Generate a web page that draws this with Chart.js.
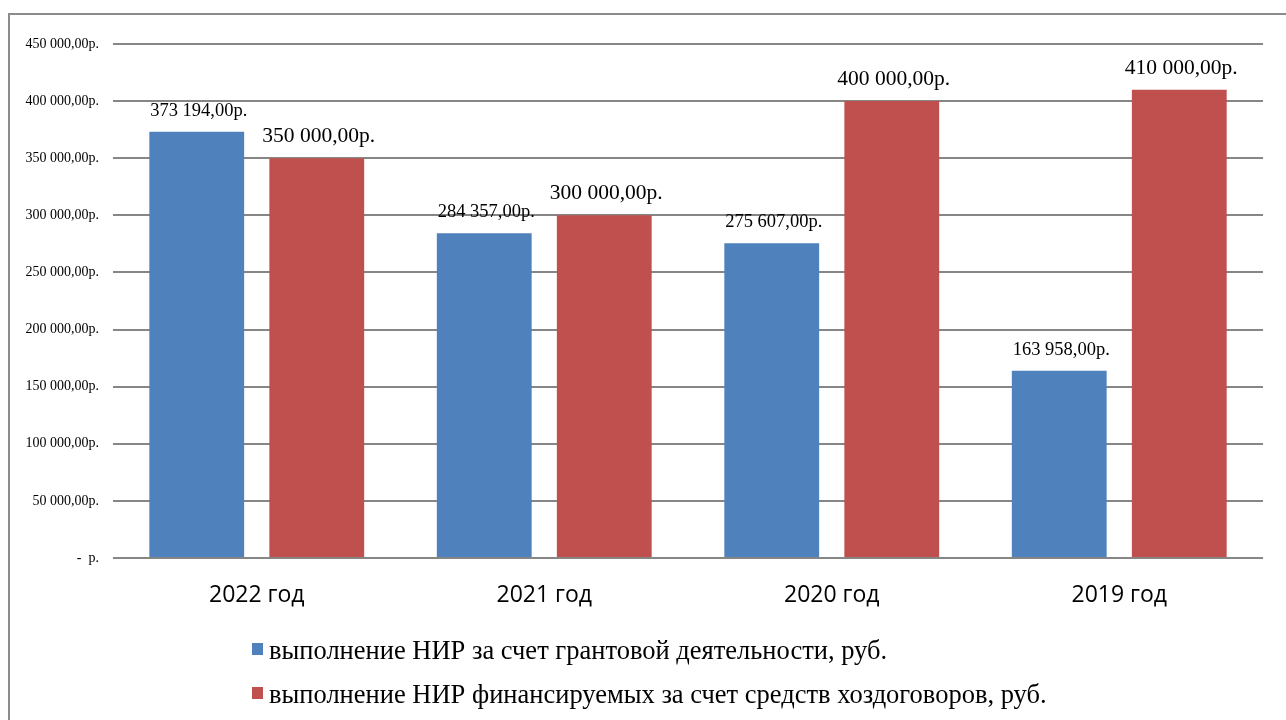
<!DOCTYPE html>
<html>
<head>
<meta charset="utf-8">
<script src="https://cdn.jsdelivr.net/npm/chart.js@4/dist/chart.umd.min.js"></script>
<style>
  html, body { margin: 0; padding: 0; background: #fff; }
  #wrap { position: relative; width: 1286px; height: 720px; }
</style>
</head>
<body>
<div id="wrap"><canvas id="chart" width="1286" height="720"></canvas></div>
<script>
// Data
const categories = ['2022 год', '2021 год', '2020 год', '2019 год'];
const grantValues = [373194, 284357, 275607, 163958];
const contractValues = [350000, 300000, 400000, 410000];
const seriesNames = [
  'выполнение НИР за счет грантовой деятельности, руб.',
  'выполнение НИР финансируемых за счет средств хоздоговоров, руб.'
];

const BLUE = '#4F81BD';
const RED = '#C0504D';
const SERIF = '"Liberation Serif", "Times New Roman", serif';

// "450 000,00р." style rouble formatting
function rub(v) {
  if (v === 0) return '-  р.';
  const s = Math.round(v).toString().replace(/\B(?=(\d{3})+(?!\d))/g, ' ');
  return s + ',00р.';
}

// Outer frame like the exported picture
const framePlugin = {
  id: 'frame',
  beforeDraw(chart) {
    const ctx = chart.ctx;
    ctx.save();
    ctx.fillStyle = '#fff';
    ctx.fillRect(0, 0, chart.width, chart.height);
    ctx.strokeStyle = '#8c8c8c';
    ctx.lineWidth = 2;
    ctx.strokeRect(9, 14, chart.width + 20, chart.height + 20);
    ctx.restore();
  }
};

// Value labels above the bars
const labelPlugin = {
  id: 'valueLabels',
  afterDatasetsDraw(chart) {
    const ctx = chart.ctx;
    ctx.save();
    ctx.fillStyle = '#000';
    ctx.textAlign = 'center';
    ctx.textBaseline = 'alphabetic';
    chart.data.datasets.forEach((ds, i) => {
      const meta = chart.getDatasetMeta(i);
      ctx.font = (i === 0 ? '18.5px ' : '21.5px ') + SERIF;
      meta.data.forEach((bar, j) => {
        ctx.fillText(rub(ds.data[j]), bar.x + 2, bar.y - 16);
      });
    });
    ctx.restore();
  }
};

// Left-aligned legend, one series per line
const legendPlugin = {
  id: 'stackedLegend',
  afterDraw(chart) {
    const ctx = chart.ctx;
    ctx.save();
    ctx.font = '26.5px ' + SERIF;
    ctx.textBaseline = 'alphabetic';
    chart.data.datasets.forEach((ds, i) => {
      const y = 659 + i * 44;
      ctx.fillStyle = ds.backgroundColor;
      ctx.fillRect(252, y - 16, 11, 12);
      ctx.fillStyle = '#000';
      ctx.fillText(ds.label, 269, y);
    });
    ctx.restore();
  }
};

new Chart(document.getElementById('chart'), {
  type: 'bar',
  data: {
    labels: categories,
    datasets: [
      { label: seriesNames[0], data: grantValues, backgroundColor: BLUE },
      { label: seriesNames[1], data: contractValues, backgroundColor: RED }
    ]
  },
  options: {
    responsive: false,
    animation: false,
    layout: { padding: { left: 0, right: 23, top: 44, bottom: 0 } },
    datasets: { bar: { categoryPercentage: 0.835, barPercentage: 0.79 } },
    plugins: {
      legend: { display: false },
      tooltip: { enabled: false }
    },
    scales: {
      x: {
        grid: { display: false },
        border: { display: false },
        ticks: {
          color: '#000',
          padding: 16,
          font: { family: '"Open Sans", "Liberation Sans", sans-serif', size: 23 }
        },
        afterFit(scale) { scale.height = 162; }
      },
      y: {
        min: 0,
        max: 450000,
        ticks: {
          stepSize: 50000,
          color: '#000',
          padding: 14,
          font: { family: SERIF, size: 14 },
          callback: (v) => rub(v)
        },
        grid: { color: '#868686', lineWidth: 2, drawTicks: false },
        border: { display: false },
        afterFit(scale) { scale.width = 113; }
      }
    }
  },
  plugins: [framePlugin, labelPlugin, legendPlugin]
});
</script>
</body>
</html>
